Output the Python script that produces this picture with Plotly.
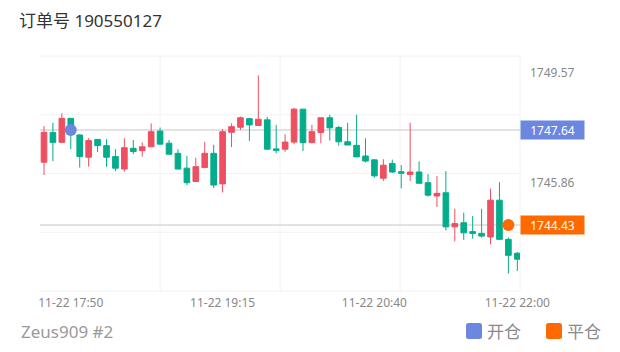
import pandas as pd
import plotly.graph_objects as go

# ---------------- data ----------------
times = pd.date_range("2023-11-22 17:35", periods=54, freq="5min")

opens = [1746.55, 1747.55, 1747.22, 1748.03, 1747.47, 1746.72, 1747.32, 1747.11, 1746.74, 1746.32,
         1747.02, 1746.94, 1747.07, 1747.60, 1747.19, 1746.85, 1746.35, 1745.90, 1746.37, 1746.85,
         1745.82, 1747.56, 1747.73, 1748.02, 1747.79, 1747.98, 1747.00, 1746.99, 1747.23, 1748.34,
         1747.21, 1747.55, 1748.05, 1747.72, 1747.24, 1747.12, 1746.76, 1746.63, 1746.01, 1746.51,
         1746.23, 1746.14, 1746.22, 1745.86, 1745.41, 1745.52, 1744.37, 1744.51, 1744.21, 1744.15,
         1744.03, 1745.27, 1743.95, 1743.48]
closes = [1747.56, 1747.22, 1748.03, 1747.50, 1746.74, 1747.28, 1747.11, 1746.72, 1746.35, 1747.04,
          1746.91, 1747.07, 1747.58, 1747.16, 1746.82, 1746.32, 1745.86, 1746.40, 1746.85, 1745.78,
          1747.58, 1747.75, 1748.05, 1747.81, 1748.00, 1746.99, 1746.95, 1747.23, 1748.34, 1747.21,
          1747.58, 1748.05, 1747.71, 1747.24, 1747.13, 1746.73, 1746.59, 1746.09, 1746.45, 1746.22,
          1746.18, 1746.22, 1745.84, 1745.44, 1745.50, 1744.37, 1744.48, 1744.17, 1744.15, 1744.06,
          1745.27, 1743.95, 1743.41, 1743.28]
highs = [1747.77, 1747.88, 1748.20, 1748.04, 1747.49, 1747.36, 1747.33, 1747.33, 1746.99, 1747.36,
         1747.30, 1747.22, 1747.86, 1747.72, 1747.30, 1746.99, 1746.76, 1746.70, 1747.24, 1747.14,
         1747.67, 1747.86, 1748.09, 1748.04, 1749.48, 1748.08, 1747.81, 1747.49, 1748.39, 1748.35,
         1747.81, 1748.06, 1748.15, 1747.78, 1747.88, 1748.15, 1747.36, 1746.65, 1746.65, 1746.64,
         1746.45, 1747.88, 1746.58, 1746.15, 1746.08, 1746.25, 1744.98, 1744.85, 1744.74, 1744.98,
         1745.66, 1745.88, 1744.01, 1743.52]
lows = [1746.12, 1746.59, 1747.22, 1746.99, 1746.37, 1746.40, 1746.89, 1746.40, 1746.25, 1746.23,
        1746.82, 1746.74, 1747.07, 1747.16, 1746.82, 1746.32, 1745.78, 1745.88, 1746.37, 1745.68,
        1745.53, 1747.06, 1747.64, 1747.27, 1747.79, 1746.99, 1746.85, 1746.90, 1747.16, 1746.93,
        1747.19, 1747.19, 1747.28, 1747.11, 1747.13, 1746.73, 1746.54, 1746.03, 1745.92, 1746.19,
        1745.67, 1745.92, 1745.84, 1745.39, 1745.04, 1744.25, 1743.88, 1743.93, 1743.97, 1744.01,
        1743.78, 1743.93, 1742.79, 1742.88]

open_time = "2023-11-22 17:50"
open_price = 1747.64
close_time = "2023-11-22 21:55"
close_price = 1744.43

y_tick_vals = [1749.57, 1745.86]
y_tick_text = ["1749.57", "1745.86"]
x_tick_vals = ["2023-11-22 17:50", "2023-11-22 19:15", "2023-11-22 20:40", "2023-11-22 22:00"]
x_tick_text = ["11-22 17:50", "11-22 19:15", "11-22 20:40", "11-22 22:00"]

title_text = "订单号 190550127"
subtitle_text = "Zeus909 #2"
legend_open = "开仓"
legend_close = "平仓"

# ---------------- style ----------------
UP = "#ee4f61"
DOWN = "#03ad8b"
BLUE = "#6b87e0"
ORANGE = "#ff6a00"
GRID = "#f2f2f2"
LEVEL = "#e2e2e2"
LATIN = "Noto Sans, Noto Sans CJK SC, sans-serif"

W, H = 620, 352
L, R, T, B = 40, 100, 56, 61
PW, PH = W - L - R, H - T - B


def px(x):
    return (x - L) / PW


def py(y):
    return (H - B - y) / PH


def rounded_square(x0, y0, x1, y1, r=2.5):
    # pixel box -> paper-space rounded rectangle path
    X0, X1 = px(x0), px(x1)
    Y0, Y1 = py(y1), py(y0)  # bottom, top in paper
    rx, ry = r / PW, r / PH
    return (f"M{X0 + rx},{Y0} L{X1 - rx},{Y0} Q{X1},{Y0} {X1},{Y0 + ry} "
            f"L{X1},{Y1 - ry} Q{X1},{Y1} {X1 - rx},{Y1} L{X0 + rx},{Y1} "
            f"Q{X0},{Y1} {X0},{Y1 - ry} L{X0},{Y0 + ry} Q{X0},{Y0} {X0 + rx},{Y0} Z")


fig = go.Figure()

fig.add_trace(go.Candlestick(
    x=times, open=opens, high=highs, low=lows, close=closes,
    increasing=dict(line=dict(color=UP, width=1), fillcolor=UP),
    decreasing=dict(line=dict(color=DOWN, width=1), fillcolor=DOWN),
    whiskerwidth=0, showlegend=False, hoverinfo="skip",
))

fig.add_trace(go.Scatter(x=[open_time], y=[open_price], mode="markers",
                         marker=dict(size=12, color=BLUE), showlegend=False, hoverinfo="skip"))
fig.add_trace(go.Scatter(x=[close_time], y=[close_price], mode="markers",
                         marker=dict(size=12, color=ORANGE), showlegend=False, hoverinfo="skip"))

shapes = []
for f in [0, 0.25, 0.5, 0.75, 1]:
    shapes.append(dict(type="line", xref="x domain", yref="y domain", x0=0, x1=1, y0=f, y1=f,
                       line=dict(color=GRID, width=1), layer="below"))
for f in [0.25, 0.5, 0.75, 1]:
    shapes.append(dict(type="line", xref="x domain", yref="y domain", x0=f, x1=f, y0=0, y1=1,
                       line=dict(color=GRID, width=1), layer="below"))
for v in [open_price, close_price]:
    shapes.append(dict(type="line", xref="x domain", yref="y", x0=0, x1=1, y0=v, y1=v,
                       line=dict(color=LEVEL, width=2), layer="below"))
# legend squares
shapes.append(dict(type="path", xref="paper", yref="paper", path=rounded_square(466, 323, 482, 339),
                   fillcolor=BLUE, line=dict(width=0)))
shapes.append(dict(type="path", xref="paper", yref="paper", path=rounded_square(546, 323, 562, 339),
                   fillcolor=ORANGE, line=dict(width=0)))

annotations = [
    dict(xref="paper", yref="y", x=1, y=open_price, xanchor="left", yanchor="middle",
         text=f"{open_price:.2f}", showarrow=False, bgcolor=BLUE, width=63, height=18,
         borderpad=0, font=dict(color="white", size=12, family=LATIN)),
    dict(xref="paper", yref="y", x=1, y=close_price, xanchor="left", yanchor="middle",
         text=f"{close_price:.2f}", showarrow=False, bgcolor=ORANGE, width=63, height=18,
         borderpad=0, font=dict(color="white", size=12, family=LATIN)),
    dict(xref="paper", yref="paper", x=px(19), y=py(331), xanchor="left", yanchor="middle",
         text=subtitle_text, showarrow=False, font=dict(color="#9a9a9a", size=17, family=LATIN)),
    dict(xref="paper", yref="paper", x=px(485), y=py(331), xanchor="left", yanchor="middle",
         text=legend_open, showarrow=False, font=dict(color="#8a8a8a", size=17, family=LATIN)),
    dict(xref="paper", yref="paper", x=px(565), y=py(331), xanchor="left", yanchor="middle",
         text=legend_close, showarrow=False, font=dict(color="#8a8a8a", size=17, family=LATIN)),
]

fig.update_layout(
    width=W, height=H,
    margin=dict(l=L, r=R, t=T, b=B, pad=0),
    paper_bgcolor="white", plot_bgcolor="white",
    font=dict(family=LATIN),
    boxgap=0.1,
    title=dict(text=title_text, x=19 / W, xref="container", xanchor="left",
               y=1 - 21 / H, yref="container", yanchor="middle",
               font=dict(size=17, color="#333333", family=LATIN)),
    xaxis=dict(type="date",
               range=["2023-11-22 17:32:46", "2023-11-22 22:01:30"],
               tickmode="array", tickvals=x_tick_vals, ticktext=x_tick_text,
               showgrid=False, zeroline=False, showline=False, ticks="",
               tickfont=dict(size=12, color="#888888"), ticklabelstandoff=3,
               rangeslider=dict(visible=False), fixedrange=True),
    yaxis=dict(range=[1742.207, 1750.133], side="right",
               tickmode="array", tickvals=y_tick_vals, ticktext=y_tick_text,
               showgrid=False, zeroline=False, showline=False, ticks="",
               tickfont=dict(size=12, color="#888888"), ticklabelstandoff=9, fixedrange=True),
    shapes=shapes, annotations=annotations,
)

fig.write_html("out.html")
